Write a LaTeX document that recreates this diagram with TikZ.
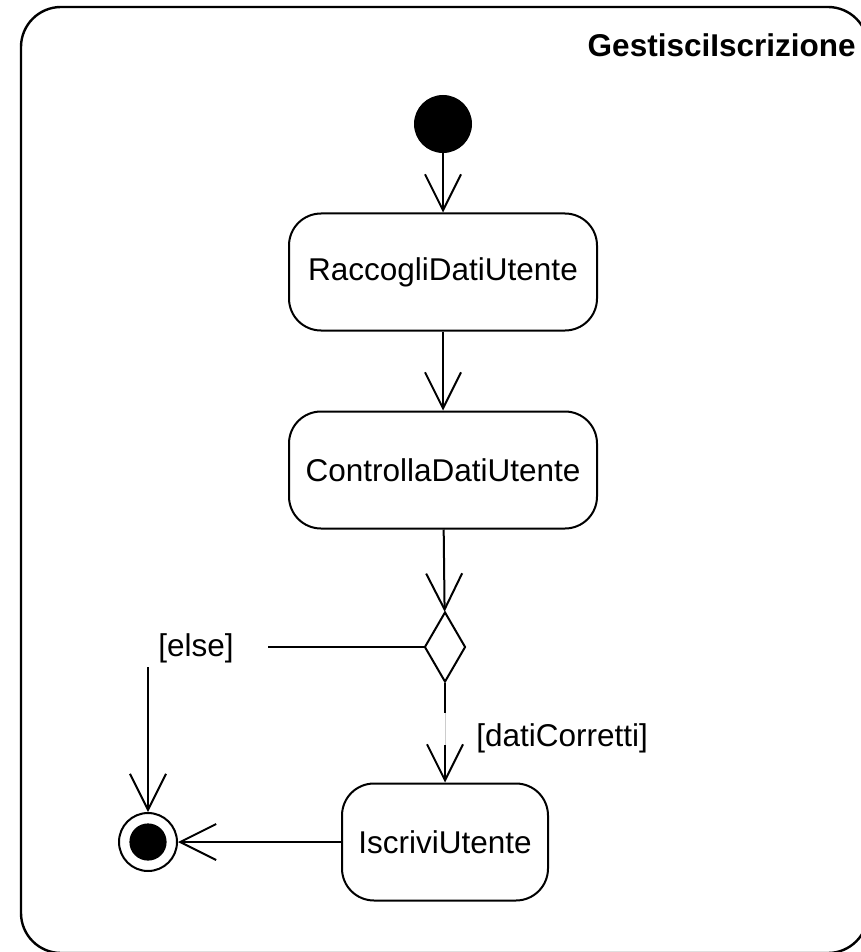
\documentclass[tikz,border=0pt]{standalone}
\usepackage{fontspec}
\setmainfont{Liberation Sans}
\usepackage{tikz}
\usetikzlibrary{arrows.meta,shapes.geometric}

\tikzset{
	activity/.style={draw,line width=1pt,rounded corners=16pt,minimum height=58.5pt,inner sep=0pt,font=\fontsize{15.75}{18}\selectfont},
	guard/.style={inner sep=0pt,font=\fontsize{15.75}{18}\selectfont},
	flow/.style={line width=1pt,-{Straight Barb[length=18pt,width=18pt,line width=1pt]}},
}

\begin{document}
\begin{tikzpicture}[x=0.5pt,y=-0.5pt]
		\useasboundingbox (0,0) rectangle (861,952);
		\clip (0,0) rectangle (861,952);
		\draw[line width=1.2pt,rounded corners=20pt] (21,7) rectangle (868,953);
		\node[anchor=east,inner sep=0pt,font=\fontsize{15.75}{18}\selectfont\bfseries] (titolo) at (856,45) {GestisciIscrizione};
		\node[circle,fill,minimum size=29pt,inner sep=0pt] (inizio) at (443,124) {};
		\node[activity,minimum width=154pt] (raccogli) at (443,272) {RaccogliDatiUtente};
		\node[activity,minimum width=154pt] (controlla) at (443,470) {ControllaDatiUtente};
		\node[diamond,draw,line width=1pt,minimum width=20.5pt,minimum height=35pt,inner sep=0pt] (scelta) at (445,647) {};
		\node[activity,minimum width=103pt] (iscrivi) at (445,842) {IscriviUtente};
		\node[circle,draw,line width=1pt,minimum size=29pt,inner sep=0pt,
			path picture={\fill (path picture bounding box.center) circle (9.3pt);}] (fine) at (148,842) {};
		\node[guard] (elselbl) at (196,648) {[else]};
		\node[guard,anchor=west] (datilbl) at (476,738) {[datiCorretti]};
		\coordinate (elsea) at (268,647);
		\coordinate (elseb) at (148,667);
		\coordinate (sgapa) at (445,713);
		\coordinate (sgapb) at (445,745);
		\path[flow]
		(inizio) edge (raccogli);
		\path[flow]
		(raccogli) edge (controlla);
		\path[flow]
		(controlla) edge (scelta);
		\path[flow]
		(scelta) edge (iscrivi);
		\draw[white,line width=1.2pt] (sgapa) -- (sgapb);
		\draw[gray!40,line width=0.5pt] (sgapa) -- (sgapb);
		\draw[line width=1pt] (scelta.west) -- (elsea);
		\path[flow]
		(elseb) edge (fine);
		\path[flow]
		(iscrivi) edge (fine);
\end{tikzpicture}
\end{document}
